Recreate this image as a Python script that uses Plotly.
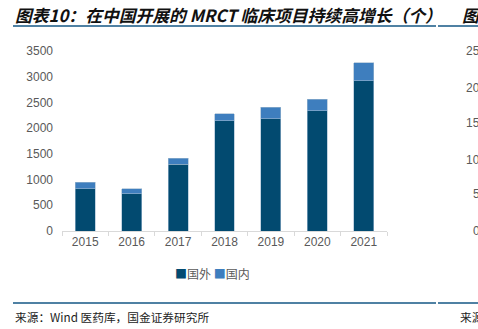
import plotly.graph_objects as go

years = ["2015", "2016", "2017", "2018", "2019", "2020", "2021"]
foreign = [817, 720, 1297, 2140, 2185, 2335, 2925]
domestic = [130, 97, 117, 136, 221, 227, 350]
y_ticks = [0, 500, 1000, 1500, 2000, 2500, 3000, 3500]
right_ticks = ["25", "20", "15", "10", "5", "0"]
right_tick_y = [51, 88, 123, 160, 194, 231]

W, H = 478, 329
L, R, T, B = 62, 387, 51, 231
C_FOREIGN = "#024A70"
C_DOMESTIC = "#3E7EBE"

def px(x):
    return (x - L) / (R - L)

def py(y):
    return (B - y) / (B - T)

fig = go.Figure()
fig.add_bar(x=years, y=foreign, name="国外", marker=dict(color=C_FOREIGN, line=dict(color="#9DB8CF", width=0.6)), width=0.43)
fig.add_bar(x=years, y=domestic, name="国内", marker=dict(color=C_DOMESTIC, line=dict(color="#9DB8CF", width=0.6)), width=0.43)

title_font = dict(family="Noto Sans CJK SC", size=16.8, color="#111111")
src_font = dict(family="Noto Sans CJK SC", size=11.7, color="#222222")
ann = [
    dict(text="<b><i>图表10：在中国开展的 MRCT 临床项目持续高增长（个）</i></b>", x=px(13), y=py(15),
         xref="paper", yref="paper", xanchor="left", yanchor="middle", showarrow=False, font=title_font),
    dict(text="<b><i>图表</i></b>", x=px(460), y=py(15),
         xref="paper", yref="paper", xanchor="left", yanchor="middle", showarrow=False, font=title_font),
    dict(text="来源：Wind 医药库，国金证券研究所", x=px(13), y=py(316),
         xref="paper", yref="paper", xanchor="left", yanchor="middle", showarrow=False, font=src_font),
    dict(text="来源", x=px(458), y=py(316),
         xref="paper", yref="paper", xanchor="left", yanchor="middle", showarrow=False, font=src_font),
    dict(text=f"<span style='color:{C_FOREIGN}'>■</span>{fig.data[0].name} <span style='color:{C_DOMESTIC}'>■</span>{fig.data[1].name}",
         x=px(212), y=py(273), xref="paper", yref="paper", xanchor="center", yanchor="middle",
         showarrow=False, font=dict(family="Noto Sans CJK SC", size=12, color="#595959")),
]
for t, yy in zip(right_ticks, right_tick_y):
    ann.append(dict(text=t, x=px(482), y=py(yy), xref="paper", yref="paper", xanchor="right",
                    yanchor="middle", showarrow=False,
                    font=dict(family="Liberation Sans", size=12, color="#595959")))

line_col = "#4F81A3"
shapes = []
for (x0, x1, yy) in [(13, 436, 26), (438, 480, 26), (13, 436, 303), (438, 480, 303)]:
    shapes.append(dict(type="line", xref="paper", yref="paper", x0=px(x0), x1=px(x1), y0=py(yy), y1=py(yy),
                       line=dict(color=line_col, width=2)))

fig.update_layout(
    width=W, height=H, barmode="stack",
    margin=dict(l=L, r=W - R, t=T, b=H - B),
    paper_bgcolor="white", plot_bgcolor="white",
    font=dict(family="Liberation Sans", size=12, color="#595959"),
    showlegend=False,
    annotations=ann, shapes=shapes,
    bargap=0.57,
)
fig.update_xaxes(type="category", showline=True, linecolor="#D9D9D9", linewidth=1,
                 ticks="outside", tickson="boundaries", ticklen=4, tickcolor="#D9D9D9",
                 showgrid=False, tickfont=dict(size=12, color="#595959"))
fig.update_yaxes(range=[0, 3500], tickvals=y_ticks, showgrid=False, showline=False, zeroline=False,
                 ticks="", ticklabelstandoff=8, tickfont=dict(size=12, color="#595959"))
fig.write_html("out.html")
